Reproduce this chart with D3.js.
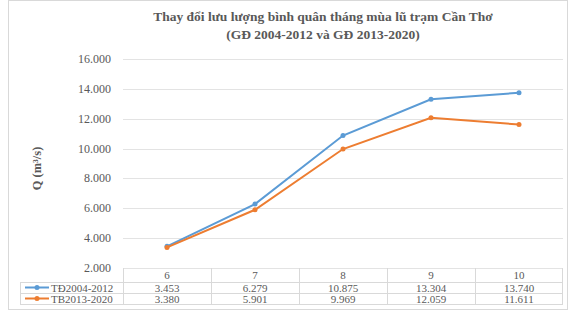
<!DOCTYPE html>
<html>
<head>
<meta charset="utf-8">
<script src="https://cdn.jsdelivr.net/npm/d3@7"></script>
<style>
body { margin: 0; background: #fff; }
svg { display: block; }
</style>
</head>
<body>
<div id="chart"></div>
<script>
const months = ["6", "7", "8", "9", "10"];
const seriesNames = ["TĐ2004-2012", "TB2013-2020"];
const flow2004 = [3453, 6279, 10875, 13304, 13740];
const flow2013 = [3380, 5901, 9969, 12059, 11611];
const yTicks = [2000, 4000, 6000, 8000, 10000, 12000, 14000, 16000];
const colors = ["#5b9bd5", "#ed7d31"];

const W = 569, H = 317;
const margin = { left: 123, right: 6, top: 59, bottom: 49 };
const fmt = v => d3.format(",")(v).replace(/,/g, ".");

const svg = d3.select("#chart").append("svg")
    .attr("width", W).attr("height", H)
    .style("font-family", "'Liberation Serif', 'Times New Roman', serif");

// chart border
svg.append("rect")
    .attr("x", 8.5).attr("y", 0.5)
    .attr("width", W - 10).attr("height", H - 8)
    .attr("fill", "none").attr("stroke", "#d9d9d9");

const x = d3.scaleBand().domain(months).range([margin.left, W - margin.right]);
const y = d3.scaleLinear().domain([2000, 16000]).range([H - margin.bottom, margin.top]);

// grid
svg.append("g").selectAll("line").data(yTicks).join("line")
    .attr("x1", margin.left).attr("x2", W - margin.right)
    .attr("y1", d => Math.round(y(d)) + 0.5).attr("y2", d => Math.round(y(d)) + 0.5)
    .attr("stroke", "#e3e3e3");

// y labels
svg.append("g").selectAll("text").data(yTicks).join("text")
    .attr("x", 111).attr("y", d => y(d) + 4)
    .attr("text-anchor", "end")
    .attr("font-size", 12).attr("fill", "#595959")
    .text(fmt);

// y title
svg.append("text")
    .attr("transform", `translate(41,${(margin.top + H - margin.bottom) / 2 + 5}) rotate(-90)`)
    .attr("text-anchor", "middle")
    .attr("font-size", 12.5).attr("font-weight", "bold").attr("fill", "#595959")
    .text("Q (m³/s)");

// title
svg.append("text")
    .attr("x", 323).attr("y", 21)
    .attr("text-anchor", "middle")
    .attr("font-size", 13.5).attr("font-weight", "bold").attr("fill", "#595959")
    .text("Thay đổi lưu lượng bình quân tháng mùa lũ trạm Cần Thơ");
svg.append("text")
    .attr("x", 323).attr("y", 39)
    .attr("text-anchor", "middle")
    .attr("font-size", 13.5).attr("font-weight", "bold").attr("fill", "#595959")
    .text("(GĐ 2004-2012 và GĐ 2013-2020)");

// lines
const allSeries = [flow2004, flow2013];
const line = d3.line()
    .x((d, i) => x(months[i]) + x.bandwidth() / 2)
    .y(d => y(d));
allSeries.forEach((s, k) => {
    svg.append("path").datum(s)
        .attr("d", line)
        .attr("fill", "none")
        .attr("stroke", colors[k])
        .attr("stroke-width", 2);
    svg.append("g").selectAll("circle").data(s).join("circle")
        .attr("cx", (d, i) => x(months[i]) + x.bandwidth() / 2)
        .attr("cy", d => y(d))
        .attr("r", 2.5)
        .attr("fill", colors[k]);
});

// data table
const tTop = H - margin.bottom;
const rowY = [tTop, tTop + 14, tTop + 25, tTop + 36];
const tableLeft = 20;
const grid = svg.append("g").attr("stroke", "#d9d9d9");
rowY.slice(1).forEach(yy => {
    grid.append("line")
        .attr("x1", tableLeft).attr("x2", W - margin.right)
        .attr("y1", yy + 0.5).attr("y2", yy + 0.5);
});
months.forEach(m => {
    grid.append("line")
        .attr("x1", Math.round(x(m)) + 0.5).attr("x2", Math.round(x(m)) + 0.5)
        .attr("y1", tTop).attr("y2", rowY[3]);
});
grid.append("line")
    .attr("x1", W - margin.right - 0.5).attr("x2", W - margin.right - 0.5)
    .attr("y1", tTop).attr("y2", rowY[3]);
grid.append("line")
    .attr("x1", tableLeft + 0.5).attr("x2", tableLeft + 0.5)
    .attr("y1", rowY[1]).attr("y2", rowY[3]);

svg.append("g").selectAll("text").data(months).join("text")
    .attr("x", d => x(d) + x.bandwidth() / 2)
    .attr("y", rowY[0] + 11)
    .attr("text-anchor", "middle")
    .attr("font-size", 11).attr("fill", "#595959")
    .text(d => d);

allSeries.forEach((s, k) => {
    const cy = rowY[k + 1] + 9.5;
    svg.append("g").selectAll("text").data(s).join("text")
        .attr("x", (d, i) => x(months[i]) + x.bandwidth() / 2)
        .attr("y", cy)
        .attr("text-anchor", "middle")
        .attr("font-size", 11).attr("fill", "#595959")
        .text(fmt);
    const ly = rowY[k + 1] + 5.5;
    svg.append("line")
        .attr("x1", tableLeft + 5).attr("x2", tableLeft + 29)
        .attr("y1", ly).attr("y2", ly)
        .attr("stroke", colors[k]).attr("stroke-width", 2);
    svg.append("circle")
        .attr("cx", tableLeft + 17).attr("cy", ly).attr("r", 2.5)
        .attr("fill", colors[k]);
    svg.append("text")
        .attr("x", tableLeft + 31).attr("y", cy)
        .attr("font-size", 11).attr("fill", "#595959")
        .text(seriesNames[k]);
});
</script>
</body>
</html>
